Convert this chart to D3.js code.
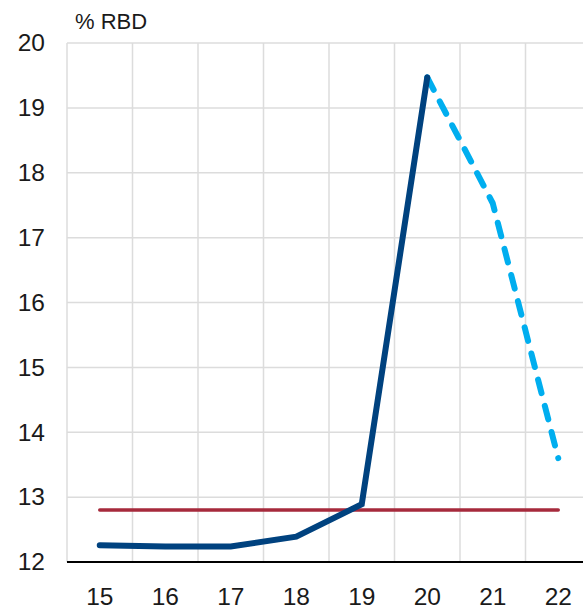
<!DOCTYPE html>
<html>
<head>
<meta charset="utf-8">
<script src="https://cdn.jsdelivr.net/npm/d3@7"></script>
<style>
  html, body { margin: 0; padding: 0; background: #fff; }
  svg { display: block; font-family: "Liberation Sans", Arial, Helvetica, sans-serif; }
</style>
</head>
<body>
<svg id="chart" width="583" height="610"></svg>
<script>
// Years (two-digit) on the horizontal axis
const years = ["15", "16", "17", "18", "19", "20", "21", "22"];
// Observed ratio, % of gross disposable income
const actualYears = ["15", "16", "17", "18", "19", "20"];
const actualValues = [12.26, 12.24, 12.24, 12.39, 12.89, 19.47];
// Projection after 2020
const projYears = ["20", "21", "22"];
const projValues = [19.47, 17.53, 13.6];
// Long-run reference level
const refValue = 12.8;
// Vertical axis ticks
const yTicks = [12, 13, 14, 15, 16, 17, 18, 19, 20];
const yLabel = "% RBD";

const svg = d3.select("#chart");
const plotLeft = 67, plotTop = 43, bandW = 65.5;
const plotRight = plotLeft + bandW * years.length;
const plotBottom = 562;

const x = d3.scaleBand().domain(years).range([plotLeft, plotRight]).padding(0);
const y = d3.scaleLinear().domain([12, 20]).range([plotBottom, plotTop]);
const cx = d => x(d) + x.bandwidth() / 2;

// Grid
const grid = svg.append("g");
grid.selectAll("line.h").data(yTicks.slice(1)).join("line")
  .attr("x1", plotLeft).attr("x2", plotRight)
  .attr("y1", d => y(d)).attr("y2", d => y(d))
  .attr("stroke", "#dcdcdc").attr("stroke-width", 1.5);
const bounds = years.map(d => x(d)).concat([plotRight]);
grid.selectAll("line.v").data(bounds).join("line")
  .attr("x1", d => d).attr("x2", d => d)
  .attr("y1", plotTop).attr("y2", plotBottom)
  .attr("stroke", "#dcdcdc").attr("stroke-width", 1.5);

// Axes
const yAxis = svg.append("g")
  .attr("transform", `translate(${plotLeft},0)`)
  .call(d3.axisLeft(y).tickValues(yTicks).tickSize(0).tickPadding(22).tickFormat(d3.format("d")));
yAxis.select(".domain").remove();
yAxis.selectAll("text").attr("font-size", 24.5).attr("fill", "#1a1a1a");

const xAxis = svg.append("g")
  .attr("transform", `translate(0,${plotBottom})`)
  .call(d3.axisBottom(x).tickSize(0).tickPadding(26));
xAxis.select(".domain").remove();
xAxis.selectAll("text").attr("font-size", 24.5).attr("fill", "#1a1a1a");

svg.append("line")
  .attr("x1", plotLeft).attr("x2", plotRight)
  .attr("y1", plotBottom).attr("y2", plotBottom)
  .attr("stroke", "#000").attr("stroke-width", 2);

svg.append("text")
  .attr("x", 75).attr("y", 29)
  .attr("font-size", 22).attr("fill", "#1a1a1a")
  .text(yLabel);

// Reference level
svg.append("line")
  .attr("x1", cx(years[0])).attr("x2", cx(years[years.length - 1]))
  .attr("y1", y(refValue)).attr("y2", y(refValue))
  .attr("stroke", "#a62a3c").attr("stroke-width", 3.5)
  .attr("stroke-linecap", "round");

const line = d3.line().x(d => cx(d[0])).y(d => y(d[1]));

// Projection (dashed)
svg.append("path")
  .datum(d3.zip(projYears, projValues))
  .attr("d", line)
  .attr("fill", "none")
  .attr("stroke", "#00aeef").attr("stroke-width", 6)
  .attr("stroke-linecap", "round").attr("stroke-linejoin", "round")
  .attr("stroke-dasharray", "14,13");

// Observed
svg.append("path")
  .datum(d3.zip(actualYears, actualValues))
  .attr("d", line)
  .attr("fill", "none")
  .attr("stroke", "#00427f").attr("stroke-width", 6)
  .attr("stroke-linecap", "round").attr("stroke-linejoin", "miter");
</script>
</body>
</html>
